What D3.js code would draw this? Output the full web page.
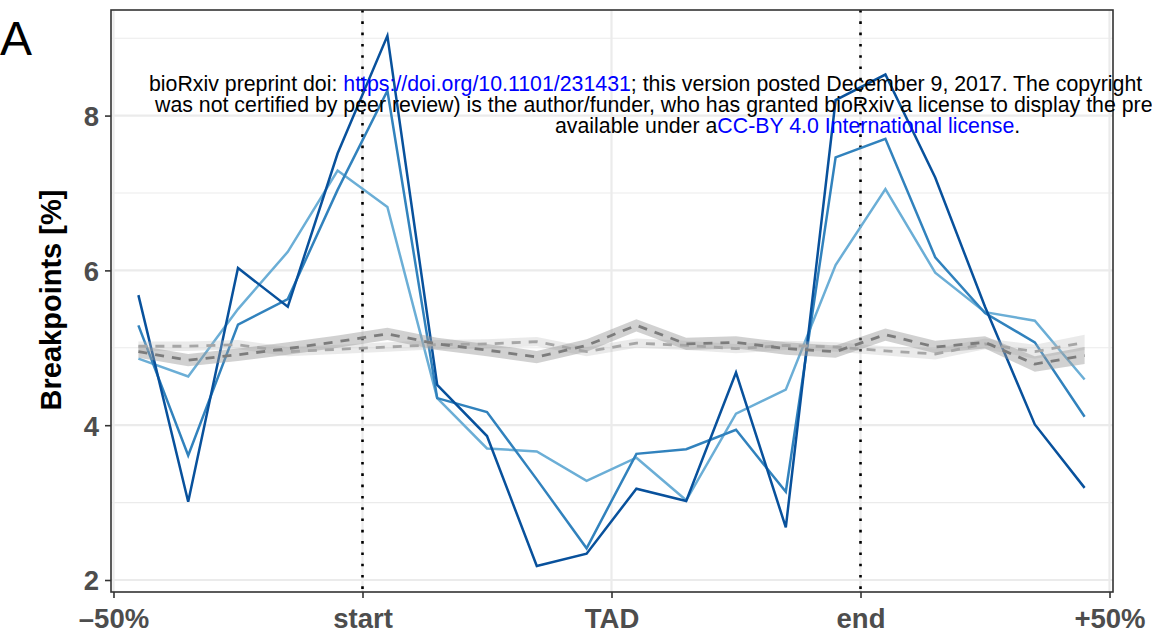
<!DOCTYPE html>
<html>
<head>
<meta charset="utf-8">
<script src="https://cdn.jsdelivr.net/npm/d3@7"></script>
<style>
  body { margin: 0; background: #fff; }
  svg { display: block; }
</style>
</head>
<body>
<svg id="chart" width="1152" height="634"></svg>
<script>
// Relative position along the TAD (0 = -50% upstream, 1 = start, 3 = end, 4 = +50% downstream)
const binCentres = [0.1, 0.3, 0.5, 0.7, 0.9, 1.1, 1.3, 1.5, 1.7, 1.9,
                    2.1, 2.3, 2.5, 2.7, 2.9, 3.1, 3.3, 3.5, 3.7, 3.9];

// Breakpoint percentages per bin
const breaksDark  = [5.68, 3.01, 6.03, 5.53, 7.51, 9.03, 4.52, 3.86, 2.18, 2.34,
                     3.18, 3.02, 4.68, 2.68, 8.20, 8.53, 7.20, 5.53, 4.01, 3.19];
const breaksMid   = [5.29, 3.61, 5.30, 5.63, 7.04, 8.32, 4.35, 4.17, 3.30, 2.41,
                     3.63, 3.69, 3.94, 3.14, 7.46, 7.70, 6.17, 5.45, 5.07, 4.11];
const breaksLight = [4.86, 4.63, 5.50, 6.24, 7.29, 6.82, 4.35, 3.70, 3.66, 3.28,
                     3.58, 3.03, 4.15, 4.46, 6.07, 7.05, 5.97, 5.46, 5.35, 4.59];

// Randomised background breakpoints with their standard errors
const randomA   = [4.95, 4.84, 4.91, 4.99, 5.08, 5.18, 5.05, 4.97, 4.88, 5.03,
                   5.29, 5.05, 5.07, 4.99, 4.95, 5.17, 5.01, 5.07, 4.79, 4.90];
const randomASe = [0.08, 0.08, 0.08, 0.08, 0.08, 0.08, 0.08, 0.08, 0.08, 0.08,
                   0.08, 0.08, 0.08, 0.08, 0.08, 0.08, 0.08, 0.08, 0.10, 0.11];
const randomB   = [5.02, 5.02, 5.04, 4.95, 4.98, 5.01, 5.04, 5.05, 5.08, 4.95,
                   5.06, 5.03, 4.99, 5.03, 5.01, 4.96, 4.92, 5.05, 4.95, 5.07];
const randomBSe = [0.06, 0.06, 0.06, 0.06, 0.06, 0.06, 0.06, 0.06, 0.06, 0.06,
                   0.06, 0.06, 0.06, 0.06, 0.06, 0.06, 0.07, 0.07, 0.09, 0.10];

const xTickValues = [0, 1, 2, 3, 4];
const xTickLabels = ["\u201350%", "start", "TAD", "end", "+50%"];
const yTickValues = [2, 4, 6, 8];
const yMinorValues = [3, 5, 7, 9];
const boundaryPositions = [1, 3];

const FONT = "'Liberation Sans', Arial, Helvetica, sans-serif";
const svg = d3.select("#chart");

const panel = { left: 111, right: 1113, top: 10, bottom: 592 };

const x = d3.scaleLinear().domain([-0.01, 4.014]).range([panel.left, panel.right]);
const y = d3.scaleLinear().domain([1.845, 9.364]).range([panel.bottom, panel.top]);

// Panel background and grid
svg.append("rect")
  .attr("x", panel.left).attr("y", panel.top)
  .attr("width", panel.right - panel.left).attr("height", panel.bottom - panel.top)
  .attr("fill", "#ffffff");

const grid = svg.append("g");
grid.selectAll("line.minor").data(yMinorValues).join("line")
  .attr("x1", panel.left).attr("x2", panel.right)
  .attr("y1", d => y(d)).attr("y2", d => y(d))
  .attr("stroke", "#ebebeb").attr("stroke-width", 1.1);
grid.selectAll("line.majorY").data(yTickValues).join("line")
  .attr("x1", panel.left).attr("x2", panel.right)
  .attr("y1", d => y(d)).attr("y2", d => y(d))
  .attr("stroke", "#ebebeb").attr("stroke-width", 2.2);
grid.selectAll("line.majorX").data(xTickValues).enter().append("line")
  .attr("y1", panel.top).attr("y2", panel.bottom)
  .attr("x1", d => x(d)).attr("x2", d => x(d))
  .attr("stroke", "#ebebeb").attr("stroke-width", 2.2);

// TAD boundaries
svg.append("g").selectAll("line").data(boundaryPositions).join("line")
  .attr("x1", d => x(d)).attr("x2", d => x(d))
  .attr("y1", panel.top).attr("y2", panel.bottom)
  .attr("stroke", "#000").attr("stroke-width", 2.6)
  .attr("stroke-dasharray", "2.6,8.7");

// Observed breakpoint profiles
const line = d3.line().x(d => x(d[0])).y(d => y(d[1]));
const profiles = [
  { values: breaksLight, colour: "#6baed6" },
  { values: breaksMid,   colour: "#3182bd" },
  { values: breaksDark,  colour: "#08519c" }
];
svg.append("g").selectAll("path").data(profiles).join("path")
  .attr("d", p => line(binCentres.map((c, i) => [c, p.values[i]])))
  .attr("fill", "none")
  .attr("stroke", p => p.colour)
  .attr("stroke-width", 2.5)
  .attr("stroke-linejoin", "miter");

// Background profiles with standard-error ribbons
const area = d3.area().x(d => x(d[0])).y0(d => y(d[1] - d[2])).y1(d => y(d[1] + d[2]));
const backgrounds = [
  { values: randomB, se: randomBSe, fill: "#bdbdbd", opacity: 0.32, stroke: "#a6a6a6" },
  { values: randomA, se: randomASe, fill: "#9a9a9a", opacity: 0.45, stroke: "#7c7c7c" }
];
const bg = svg.append("g");
backgrounds.forEach(b => {
  const rows = binCentres.map((c, i) => [c, b.values[i], b.se[i]]);
  bg.append("path").attr("d", area(rows))
    .attr("fill", b.fill).attr("fill-opacity", b.opacity).attr("stroke", "none");
});
backgrounds.forEach(b => {
  const rows = binCentres.map((c, i) => [c, b.values[i]]);
  bg.append("path").attr("d", line(rows))
    .attr("fill", "none").attr("stroke", b.stroke)
    .attr("stroke-width", 2.8).attr("stroke-dasharray", "9,8");
});

// Panel border
svg.append("rect")
  .attr("x", panel.left).attr("y", panel.top)
  .attr("width", panel.right - panel.left).attr("height", panel.bottom - panel.top)
  .attr("fill", "none").attr("stroke", "#333333").attr("stroke-width", 1.6);

// Axes
const yAxis = d3.axisLeft(y).tickValues(yTickValues).tickSize(6).tickPadding(6)
  .tickFormat(d3.format("d"));
const yG = svg.append("g").attr("transform", `translate(${panel.left},0)`).call(yAxis);
const xAxis = d3.axisBottom(x).tickValues(xTickValues).tickSize(6).tickPadding(10)
  .tickFormat((d, i) => xTickLabels[i]);
const xG = svg.append("g").attr("transform", `translate(0,${panel.bottom})`).call(xAxis);

[yG, xG].forEach(g => {
  g.select(".domain").remove();
  g.selectAll(".tick line").attr("stroke", "#333333").attr("stroke-width", 1.6);
  g.selectAll(".tick text")
    .attr("fill", "#4d4d4d")
    .style("font-family", FONT)
    .style("font-weight", "bold")
    .style("font-size", "27.5px");
});
yG.selectAll(".tick text").attr("dy", "0.36em");
xG.selectAll(".tick text").attr("dy", "0.74em");

// Axis title
svg.append("text")
  .attr("transform", "translate(61,300) rotate(-90)")
  .attr("text-anchor", "middle")
  .style("font-family", FONT).style("font-weight", "bold").style("font-size", "29px")
  .attr("fill", "#000")
  .text("Breakpoints [%]");

// Panel letter
svg.append("text")
  .attr("x", 0).attr("y", 55)
  .style("font-family", FONT).style("font-size", "48px")
  .attr("fill", "#000")
  .text("A");

// Preprint notice
const notice = [
  { x: 149, y: 91, parts: [
    ["bioRxiv preprint doi: ", "#000"],
    ["https://doi.org/10.1101/231431", "#0000ff"],
    ["; this version posted December 9, 2017. The copyright", "#000"]] },
  { x: 155, y: 112, parts: [
    ["was not certified by peer review) is the author/funder, who has granted bioRxiv a license to display the pre", "#000"]] },
  { x: 555, y: 133, parts: [
    ["available under a", "#000"],
    ["CC-BY 4.0 International license", "#0000ff"],
    [".", "#000"]] }
];
const noticeG = svg.append("g");
const noticeTexts = notice.map(n => {
  const t = noticeG.append("text").attr("x", n.x).attr("y", n.y)
    .style("font-family", FONT).style("font-size", "20px");
  n.parts.forEach(p => t.append("tspan").attr("fill", p[1]).text(p[0]));
  return t;
});
// Scale the notice so the first line spans its full width
const firstWidth = noticeTexts[0].node().getComputedTextLength();
const noticeSize = 20 * 994 / firstWidth;
noticeTexts.forEach(t => t.style("font-size", noticeSize + "px"));
</script>
</body>
</html>
